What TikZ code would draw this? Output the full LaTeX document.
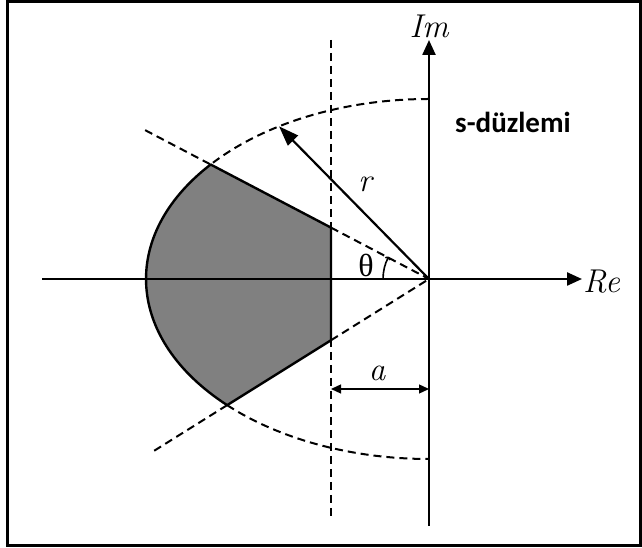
\documentclass[tikz,border=0pt]{standalone}
\usepackage{fontspec}
\newfontfamily\calib{Carlito}
\newfontfamily\grk{Liberation Serif}
\usetikzlibrary{arrows.meta,calc}
\begin{document}
\begin{tikzpicture}[x=1pt,y=1pt,
  axis/.style={line width=2.4pt,-{Triangle[length=15pt,width=13pt]}},
  dsh/.style={line width=2pt,dash pattern=on 8pt off 5pt},
  lbl/.style={font=\fontsize{33}{36}\selectfont\itshape,inner sep=0pt},
  region/.style={fill=black!50,draw=black,line width=2.4pt,line join=round}]
\useasboundingbox (0,0) rectangle (642,548);
\draw[line width=3pt] (7,2) rectangle (640,546);
% key points
\coordinate (O) at (429,269);
\coordinate (U) at ($(O)+({283*cos(140.5)},{180*sin(140.5)})$);
\coordinate (L) at ($(O)+({283*cos(224.5)},{180*sin(224.5)})$);
\coordinate (T) at (429,449);
\coordinate (B) at (429,89);
\coordinate (PU) at ($(O)!98/218.4!(U)$);
\coordinate (PL) at ($(O)!98/201.9!(L)$);
\coordinate (UE) at ($(O)!1.3!(U)$);
\coordinate (LE) at ($(O)!1.372!(L)$);
\coordinate (R) at ($(O)+({283*cos(122)},{180*sin(122)})$);
\coordinate (ReS) at (42,269);
\coordinate (ReT) at (582,269);
\coordinate (ImS) at (429,22);
\coordinate (ImT) at (429,508);
\coordinate (VT) at (331,508);
\coordinate (VB) at (331,28);
\coordinate (DA) at (331,159);
\coordinate (DB) at (429,159);
% shaded region
\draw[region] (PU) -- (U) arc[start angle=140.5,end angle=224.5,x radius=283,y radius=180] -- (L) -- (PL) -- cycle;
% dashed construction
\draw[dsh] (VT) -- (VB);
\draw[dsh] (T) arc[start angle=90,end angle=140.5,x radius=283,y radius=180];
\draw[dsh] (L) arc[start angle=224.5,end angle=270,x radius=283,y radius=180];
\draw[dsh] (UE) -- (U);
\draw[dsh] (PU) -- (O);
\draw[dsh] (PL) -- (O);
\draw[dsh] (L) -- (LE);
% axes
\draw[axis] (ReS) -- (ReT);
\draw[axis] (ImS) -- (ImT);
% radius arrow
\draw[line width=2.2pt,-{Triangle[length=20pt,width=14pt]}] (O) -- (R);
% angle arc
\draw[line width=1.6pt,-{To[length=3pt,width=6pt]}] ($(O)+(-46,0)$) arc[start angle=180,end angle=151,radius=46];
% dimension a
\draw[line width=1.3pt,{Triangle[length=10pt,width=9pt]}-{Triangle[length=10pt,width=9pt]}] (DA) -- (DB);
% labels
\node[lbl] (im) at (429,522) {Im};
\node[lbl,anchor=west] (re) at (583,266) {Re};
\node[lbl] (rl) at (365,364) {r};
\node[lbl,font=\fontsize{32}{35}\selectfont\grk] (th) at (366,283) {θ};
\node[lbl] (al) at (377,175) {a};
\node[font=\calib\bfseries\fontsize{29}{32}\selectfont,inner sep=0pt] (sd) at (513,426) {s-düzlemi};
\end{tikzpicture}
\end{document}
